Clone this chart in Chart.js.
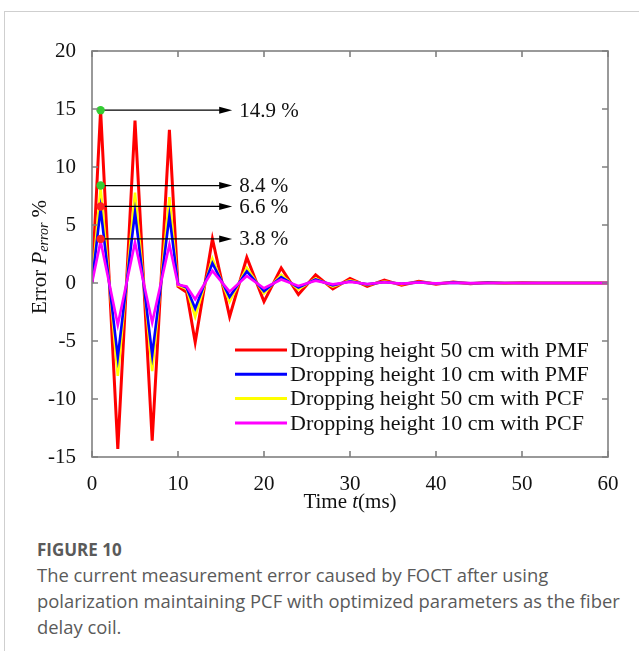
<!DOCTYPE html>
<html>
<head>
<meta charset="utf-8">
<script src="https://cdn.jsdelivr.net/npm/chart.js@4/dist/chart.umd.min.js"></script>
<style>
    body { margin: 0; background: #fff; }
    #page { position: relative; width: 639px; height: 651px; overflow: hidden; }
    #card { position: absolute; left: 4px; top: 11px; width: 700px; height: 700px;
            border-left: 1px solid #cfcfcf; border-top: 1px solid #cfcfcf; }
    #chart { position: absolute; left: 0; top: 0; }
    #caption { position: absolute; left: 37px; top: 538px; width: 592px;
               font-family: "Open Sans", sans-serif; color: #5a5a5a; }
    #caption .fig { font-weight: 700; font-size: 17px; line-height: 24px; }
    #caption .txt { font-size: 18.4px; line-height: 26px; }
</style>
</head>
<body>
<div id="page">
    <div id="card"></div>
    <canvas id="chart" width="639" height="520"></canvas>
    <div id="caption">
        <div class="fig">FIGURE 10</div>
        <div class="txt">The current measurement error caused by FOCT after using polarization maintaining PCF with optimized parameters as the fiber delay coil.</div>
    </div>
</div>
<script>
const times = [0, 1, 3, 5, 7, 9, 10, 11, 12, 14, 16, 18, 20, 22, 24, 26, 28, 30,
    32, 34, 36, 38, 40, 42, 44, 46, 48, 50, 52, 54, 56, 58, 60];

const pmf50 = [0, 14.9, -14.3, 14.0, -13.6, 13.2, -0.3, -0.8, -5.1, 3.8, -2.9, 2.2, -1.6,
    1.3, -1.0, 0.7, -0.5, 0.4, -0.3, 0.25, -0.2, 0.15, -0.1, 0.08, -0.06, 0.04, -0.03,
    0.02, 0, 0, 0, 0, 0];
const pmf10 = [0, 6.4, -6.4, 6.1, -6.2, 5.8, -0.1, -0.4, -2.2, 1.7, -1.2, 1.0, -0.7,
    0.5, -0.4, 0.3, -0.2, 0.15, -0.12, 0.09, -0.07, 0.05, -0.04, 0.03, -0.02, 0.01, 0,
    0, 0, 0, 0, 0, 0];
const pcf50 = [0, 8.2, -8.0, 7.8, -7.6, 7.4, -0.2, -0.5, -2.9, 2.1, -1.6, 1.3, -0.9,
    0.7, -0.55, 0.4, -0.3, 0.22, -0.16, 0.12, -0.1, 0.08, -0.05, 0.04, -0.03, 0.02, -0.01,
    0, 0, 0, 0, 0, 0];
const pcf10 = [0, 3.6, -3.6, 3.5, -3.4, 3.3, -0.15, -0.3, -1.4, 1.05, -0.75, 0.6, -0.45,
    0.3, -0.25, 0.2, -0.12, 0.1, -0.08, 0.06, -0.05, 0.04, -0.03, 0.02, -0.01, 0, 0,
    0, 0, 0, 0, 0, 0];

const seriesLabels = [
    "Dropping height 50 cm with PMF",
    "Dropping height 10 cm with PMF",
    "Dropping height 50 cm with PCF",
    "Dropping height 10 cm with PCF",
];
const seriesColors = ["#ff0000", "#0000ff", "#ffff00", "#ff00ff"];

const xTicks = [0, 10, 20, 30, 40, 50, 60];
const yTicks = [-15, -10, -5, 0, 5, 10, 15, 20];

// peak markers with arrows
const markerTime = 1;
const markerValues = [14.9, 8.4, 6.6, 3.8];
const markerColors = ["#33cc33", "#33cc33", "#ff2020", "#ff2020"];
const markerLabels = ["14.9 %", "8.4 %", "6.6 %", "3.8 %"];
const arrowEnd = 16.3;

const serif = "'Liberation Serif', 'Times New Roman', serif";

const toXY = (ys) => times.map((t, i) => ({ x: t, y: ys[i] }));

const datasets = [pmf50, pmf10, pcf50, pcf10].map((ys, i) => ({
    label: seriesLabels[i],
    data: toXY(ys),
    borderColor: seriesColors[i],
    backgroundColor: seriesColors[i],
    borderWidth: i === 0 ? 3 : 2.6,
    pointRadius: 0,
    tension: 0,
    order: [3, 1, 2, 0][i],
}));

const drawRich = (ctx, parts, x, y) => {
    // parts: [text, font, dy]
    let total = 0;
    parts.forEach((p) => { ctx.font = p[1]; total += ctx.measureText(p[0]).width; });
    let cx = x - total / 2;
    ctx.textAlign = "left";
    ctx.textBaseline = "middle";
    parts.forEach((p) => {
        ctx.font = p[1];
        ctx.fillText(p[0], cx, y + (p[2] || 0));
        cx += ctx.measureText(p[0]).width;
    });
};

const decorations = {
    id: "decorations",
    afterDatasetsDraw(chart) {
        const { ctx, scales: { x, y } } = chart;
        ctx.save();
        markerValues.forEach((v, i) => {
            const px = x.getPixelForValue(markerTime);
            const py = y.getPixelForValue(v);
            const ex = x.getPixelForValue(arrowEnd);
            ctx.strokeStyle = "#000";
            ctx.lineWidth = 1.2;
            ctx.beginPath();
            ctx.moveTo(px, py);
            ctx.lineTo(ex - 10, py);
            ctx.stroke();
            ctx.fillStyle = "#000";
            ctx.beginPath();
            ctx.moveTo(ex, py);
            ctx.lineTo(ex - 13, py - 3.5);
            ctx.lineTo(ex - 13, py + 3.5);
            ctx.closePath();
            ctx.fill();
            ctx.fillStyle = markerColors[i];
            ctx.beginPath();
            ctx.arc(px, py, 4.2, 0, Math.PI * 2);
            ctx.fill();
            ctx.fillStyle = "#111";
            ctx.font = "21px " + serif;
            ctx.textAlign = "left";
            ctx.textBaseline = "middle";
            ctx.fillText(markerLabels[i], ex + 7, py + 1);
        });
        ctx.restore();
    },
    afterDraw(chart) {
        const { ctx, chartArea: a, scales: { x, y } } = chart;
        ctx.save();
        // axes box with inward ticks
        ctx.strokeStyle = "#808080";
        ctx.lineWidth = 1.6;
        ctx.strokeRect(a.left, a.top, a.right - a.left, a.bottom - a.top);
        ctx.beginPath();
        xTicks.forEach((t) => {
            const px = x.getPixelForValue(t);
            ctx.moveTo(px, a.bottom); ctx.lineTo(px, a.bottom - 6);
            ctx.moveTo(px, a.top); ctx.lineTo(px, a.top + 6);
        });
        yTicks.forEach((t) => {
            const py = y.getPixelForValue(t);
            ctx.moveTo(a.left, py); ctx.lineTo(a.left + 6, py);
            ctx.moveTo(a.right, py); ctx.lineTo(a.right - 6, py);
        });
        ctx.stroke();

        // legend
        chart.data.datasets.forEach((ds, i) => {
            const ly = 350 + i * 24.3;
            ctx.strokeStyle = ds.borderColor;
            ctx.lineWidth = 3;
            ctx.beginPath();
            ctx.moveTo(235, ly);
            ctx.lineTo(287, ly);
            ctx.stroke();
            ctx.fillStyle = "#111";
            ctx.font = "22px " + serif;
            ctx.textAlign = "left";
            ctx.textBaseline = "middle";
            ctx.fillText(ds.label, 290, ly + 1);
        });

        // axis titles
        ctx.fillStyle = "#111";
        drawRich(ctx, [
            ["Time ", "21px " + serif],
            ["t", "italic 21px " + serif],
            ["(ms)", "21px " + serif],
        ], 350, 502);

        ctx.translate(40, 257);
        ctx.rotate(-Math.PI / 2);
        drawRich(ctx, [
            ["Error ", "21px " + serif],
            ["P", "italic 21px " + serif],
            ["error", "italic 14px " + serif, 4],
            [" %", "21px " + serif],
        ], 0, 0);
        ctx.restore();
    },
};

new Chart(document.getElementById("chart").getContext("2d"), {
    type: "line",
    data: { datasets: datasets },
    options: {
        responsive: false,
        animation: false,
        devicePixelRatio: 1,
        layout: { padding: { top: 51, right: 31, left: 0, bottom: 0 } },
        plugins: {
            legend: { display: false },
            tooltip: { enabled: false },
        },
        scales: {
            x: {
                type: "linear",
                min: 0,
                max: 60,
                afterBuildTicks: (scale) => { scale.ticks = xTicks.map((v) => ({ value: v })); },
                afterFit: (scale) => { scale.height = 63; },
                grid: { display: false },
                border: { display: false },
                ticks: {
                    padding: 7,
                    color: "#111",
                    font: { family: serif, size: 21 },
                    maxRotation: 0,
                },
            },
            y: {
                min: -15,
                max: 20,
                afterBuildTicks: (scale) => { scale.ticks = yTicks.map((v) => ({ value: v })); },
                afterFit: (scale) => { scale.width = 92; },
                grid: { display: false },
                border: { display: false },
                ticks: {
                    padding: 8,
                    color: "#111",
                    font: { family: serif, size: 21 },
                },
            },
        },
    },
    plugins: [decorations],
});
</script>
</body>
</html>
